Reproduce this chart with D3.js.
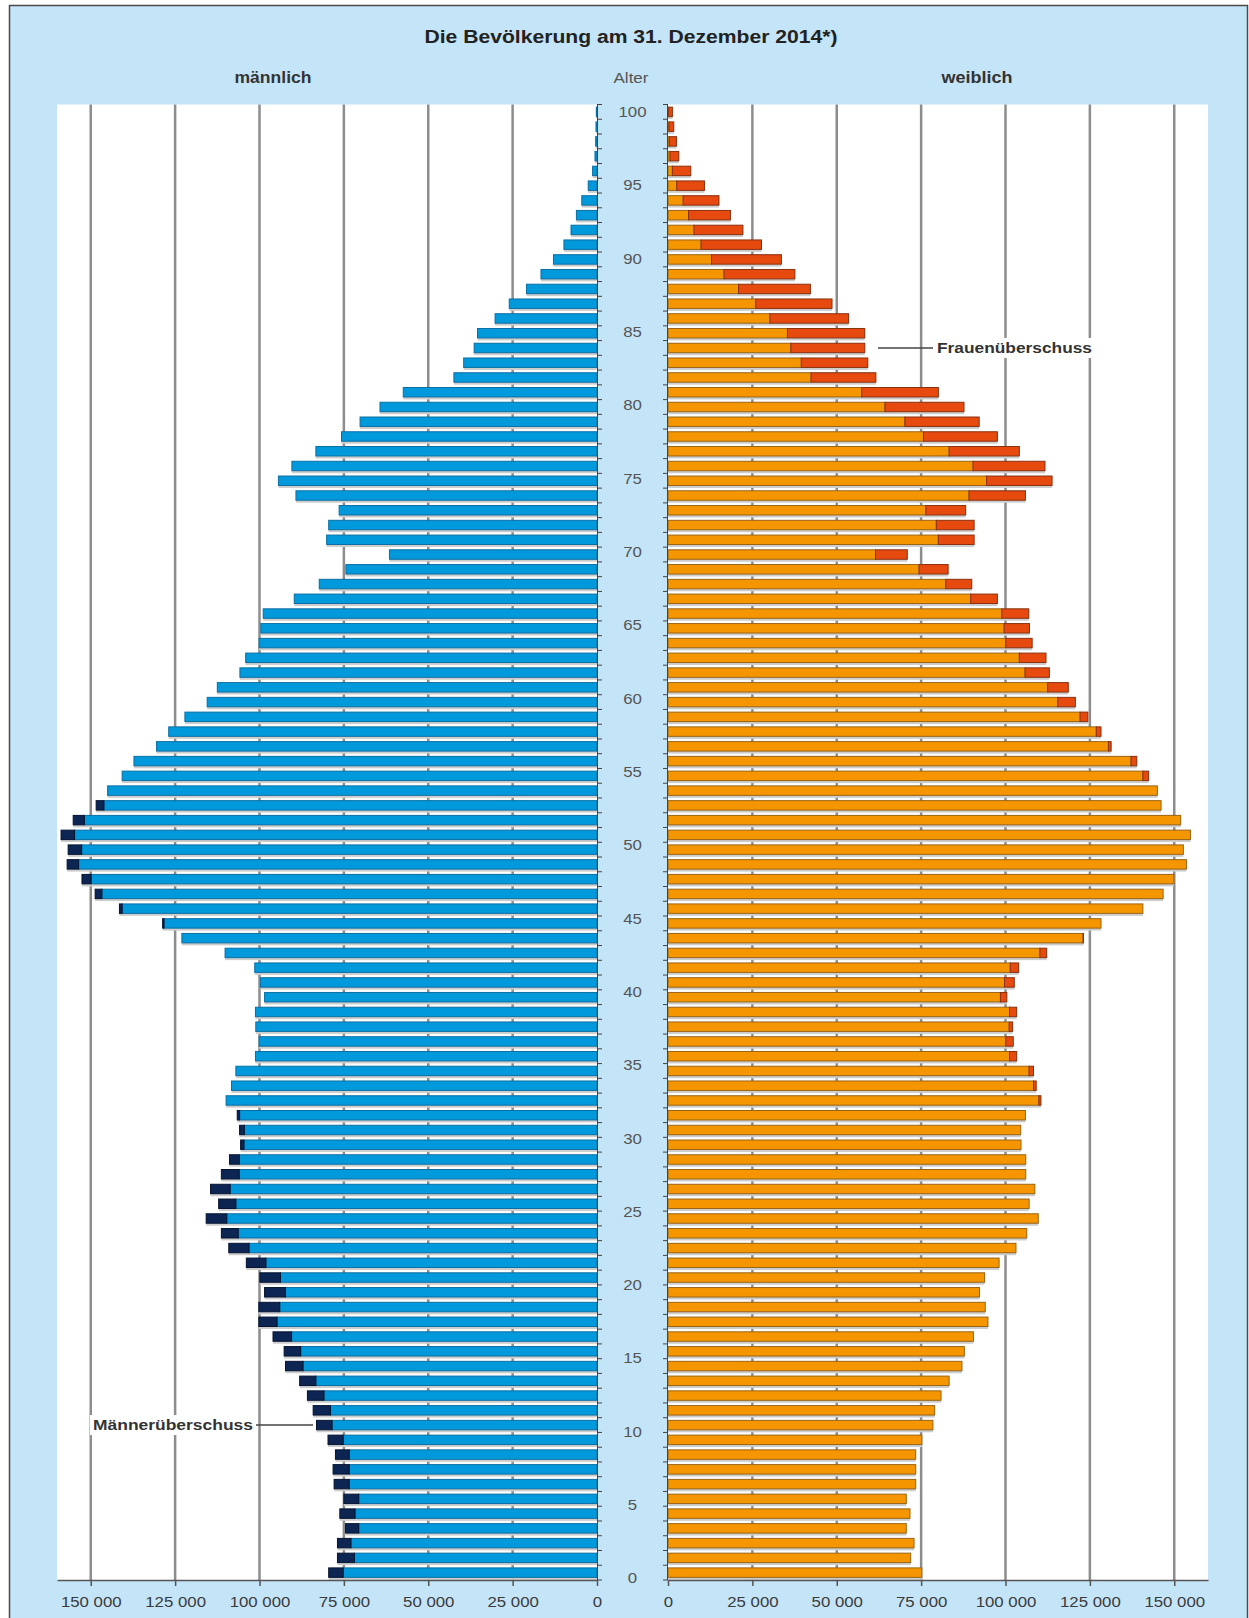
<!DOCTYPE html>
<html>
<head>
<meta charset="utf-8">
<script src="https://cdn.jsdelivr.net/npm/d3@7"></script>
<style>
  body { margin: 0; background: #fff; }
  svg { display: block; }
  text { font-family: "Liberation Sans", Arial, sans-serif; }
</style>
</head>
<body>
<svg id="chart" width="1249" height="1618"></svg>
<script>
// ages 0..99, bottom to top
var ages = d3.range(0, 100);

var maleValues = [
  79500, 76900, 76900, 74500, 76200, 75000, 77900, 78200, 77500, 79700,
  83100, 84100, 85800, 88100, 92300, 92700, 96000, 100200, 100200, 98500,
  99900, 103900, 109100, 111300, 115800, 112100, 114500, 111300, 108900, 105600,
  105900, 106600, 109900, 108300, 107000, 101200, 100100, 101100, 101200, 98500,
  99700, 101400, 110200, 123000, 128700, 141500, 148700, 152600, 157000, 156700,
  158800, 155200, 148400, 145000, 140700, 137200, 130500, 126900, 122100, 115500,
  112500, 105800, 104100, 100100, 99600, 98900, 89700, 82300, 74400, 61500,
  80100, 79500, 76400, 89200, 94400, 90400, 83300, 75700, 70200, 64300,
  57400, 42400, 39500, 36400, 35400, 30200, 26000, 20900, 16600, 12900,
  9800, 7700, 6100, 4500, 2600, 1300, 600, 400, 300, 200
];

var femaleValues = [
  75200, 71900, 72900, 70600, 71700, 70600, 73400, 73400, 73400, 75200,
  78500, 79000, 80900, 83300, 87100, 87800, 90500, 94800, 94000, 92300,
  93800, 98100, 103100, 106300, 109700, 107000, 108700, 106000, 106000, 104600,
  104500, 105900, 110500, 109100, 108300, 103300, 102300, 102100, 103300, 100400,
  102600, 103900, 112200, 123100, 128300, 140700, 146700, 149900, 153600, 152700,
  154800, 151900, 146100, 145000, 142400, 138900, 131300, 128300, 124400, 120700,
  118600, 113000, 112000, 107900, 107100, 106900, 97600, 90000, 83000, 70900,
  90700, 90700, 88200, 105900, 113800, 111700, 104100, 97600, 92200, 87700,
  80100, 61600, 59200, 58300, 58300, 53500, 48600, 42200, 37600, 33600,
  27700, 22200, 18500, 15100, 10800, 6750, 3200, 2500, 1700, 1300
];

var xTicks = [0, 25000, 50000, 75000, 100000, 125000, 150000];
var ageLabels = d3.range(0, 101, 5);

var titleText = 'Die Bevölkerung am 31. Dezember 2014*)';

var svg = d3.select('#chart');

var plotTop = 104.5, plotBottom = 1580;

var xL = d3.scaleLinear().domain([0, 160000]).range([597, 57]);
var xR = d3.scaleLinear().domain([0, 160000]).range([668, 1208]);
var y = d3.scaleBand().domain(ages).range([plotBottom, plotTop]).paddingInner(0.36).paddingOuter(0.18);
// the age labels sit on their own scale in the original
var yLab = d3.scaleLinear().domain([0, 100]).range([1578, 111.7]);

var fmt = d3.formatLocale({ decimal: ',', thousands: '\u00a0', grouping: [3], currency: ['', ''] }).format(',');

var BLUE = '#0099dc', NAVY = '#0c2552', ORANGE = '#f59600', RED = '#e64a0e';

function stretch(sel, k) {
  sel.each(function () {
    var w = this.getComputedTextLength();
    d3.select(this).attr('textLength', w * k).attr('lengthAdjust', 'spacingAndGlyphs');
  });
}

// background + frame
svg.append('rect').attr('width', 1249).attr('height', 1618).attr('fill', '#fff');
svg.append('rect')
  .attr('x', 9.5).attr('y', 5.5).attr('width', 1238).attr('height', 1640)
  .attr('fill', '#c4e4f8').attr('stroke', '#4a4a4a').attr('stroke-width', 1.5);

// plot areas
svg.append('rect').attr('x', xL.range()[1]).attr('y', plotTop)
  .attr('width', xL.range()[0] - xL.range()[1]).attr('height', plotBottom - plotTop).attr('fill', '#fff');
svg.append('rect').attr('x', xR.range()[0]).attr('y', plotTop)
  .attr('width', xR.range()[1] - xR.range()[0]).attr('height', plotBottom - plotTop).attr('fill', '#fff');

// gridlines
var grid = svg.append('g').attr('stroke', '#8d8d8d').attr('stroke-width', 2.5);
xTicks.slice(1).forEach(function (t) {
  grid.append('line').attr('x1', xL(t)).attr('x2', xL(t)).attr('y1', plotTop).attr('y2', plotBottom);
  grid.append('line').attr('x1', xR(t)).attr('x2', xR(t)).attr('y1', plotTop).attr('y2', plotBottom);
});

var rows = ages.map(function (a) {
  return { age: a, m: maleValues[a], f: femaleValues[a], c: Math.min(maleValues[a], femaleValues[a]) };
});

// shadows under the bars
var shadow = svg.append('g').attr('fill', '#cdcdcd');
shadow.selectAll('.sl').data(rows).enter().append('rect')
  .attr('x', function (d) { return xL(d.m); })
  .attr('y', function (d) { return y(d.age) + 2.5; })
  .attr('width', function (d) { return xL(0) - xL(d.m); })
  .attr('height', y.bandwidth());
shadow.selectAll('.sr').data(rows).enter().append('rect')
  .attr('x', xR(0))
  .attr('y', function (d) { return y(d.age) + 2.5; })
  .attr('width', function (d) { return xR(d.f) - xR(0); })
  .attr('height', y.bandwidth());

var bars = svg.append('g').attr('stroke-width', 1);

// männlich
bars.selectAll('.mc').data(rows).enter().append('rect')
  .attr('x', function (d) { return xL(d.c); })
  .attr('y', function (d) { return y(d.age); })
  .attr('width', function (d) { return xL(0) - xL(d.c); })
  .attr('height', y.bandwidth())
  .attr('fill', BLUE).attr('stroke', '#0b6fa3');
bars.selectAll('.mx').data(rows.filter(function (d) { return d.m > d.f; })).enter().append('rect')
  .attr('x', function (d) { return xL(d.m); })
  .attr('y', function (d) { return y(d.age); })
  .attr('width', function (d) { return xL(d.c) - xL(d.m); })
  .attr('height', y.bandwidth())
  .attr('fill', NAVY).attr('stroke', '#061430');

// weiblich
bars.selectAll('.fc').data(rows).enter().append('rect')
  .attr('x', xR(0))
  .attr('y', function (d) { return y(d.age); })
  .attr('width', function (d) { return xR(d.c) - xR(0); })
  .attr('height', y.bandwidth())
  .attr('fill', ORANGE).attr('stroke', '#9a6412');
bars.selectAll('.fx').data(rows.filter(function (d) { return d.f > d.m; })).enter().append('rect')
  .attr('x', function (d) { return xR(d.c); })
  .attr('y', function (d) { return y(d.age); })
  .attr('width', function (d) { return xR(d.f) - xR(d.c); })
  .attr('height', y.bandwidth())
  .attr('fill', RED).attr('stroke', '#8a3010');

// vertical axes at the middle strip, ticks between the age bands
var step = y.step();
var vax = svg.append('g').attr('stroke', '#444').attr('stroke-width', 1);
vax.append('line').attr('x1', xL(0) + 0.5).attr('x2', xL(0) + 0.5).attr('y1', plotTop).attr('y2', plotBottom);
vax.append('line').attr('x1', xR(0) - 0.5).attr('x2', xR(0) - 0.5).attr('y1', plotTop).attr('y2', plotBottom);
d3.range(0, ages.length + 1).forEach(function (i) {
  var yy = plotBottom - i * step;
  vax.append('line').attr('x1', xL(0)).attr('x2', xL(0) + 5).attr('y1', yy).attr('y2', yy);
  vax.append('line').attr('x1', xR(0)).attr('x2', xR(0) - 5).attr('y1', yy).attr('y2', yy);
});

// bottom axes
function styleAxis(g) {
  g.select('.domain').attr('stroke', '#555').attr('stroke-width', 1.5);
  g.selectAll('.tick line').attr('stroke', '#555').attr('stroke-width', 1.5);
  g.selectAll('.tick text').attr('font-size', 15).attr('fill', '#3a3a3a').attr('dy', 0)
    .attr('y', 27).style('font-family', '"Liberation Sans", Arial, sans-serif');
  stretch(g.selectAll('.tick text'), 1.12);
}
svg.append('g').attr('transform', 'translate(0,' + plotBottom + ')')
  .call(d3.axisBottom(xL).tickValues(xTicks).tickFormat(fmt).tickSize(6).tickSizeOuter(0))
  .call(styleAxis);
svg.append('g').attr('transform', 'translate(0,' + plotBottom + ')')
  .call(d3.axisBottom(xR).tickValues(xTicks).tickFormat(fmt).tickSize(6).tickSizeOuter(0))
  .call(styleAxis);

// age labels
var midX = (xL(0) + xR(0)) / 2;
var al = svg.append('g').selectAll('text').data(ageLabels).enter().append('text')
  .attr('x', midX)
  .attr('y', function (d) { return yLab(d); })
  .attr('dy', '0.36em')
  .attr('text-anchor', 'middle')
  .attr('font-size', 15)
  .attr('fill', '#555')
  .text(function (d) { return d; });
stretch(al, 1.12);

// headings
svg.append('text').attr('x', 631).attr('y', 43).attr('text-anchor', 'middle')
  .attr('font-size', 18).attr('font-weight', 'bold').attr('fill', '#222')
  .attr('textLength', 413).attr('lengthAdjust', 'spacingAndGlyphs')
  .text(titleText);
svg.append('text').attr('x', 273).attr('y', 83).attr('text-anchor', 'middle')
  .attr('font-size', 16).attr('font-weight', 'bold').attr('fill', '#333')
  .attr('textLength', 77).attr('lengthAdjust', 'spacingAndGlyphs')
  .text('männlich');
svg.append('text').attr('x', 631).attr('y', 83).attr('text-anchor', 'middle')
  .attr('font-size', 15).attr('fill', '#555')
  .attr('textLength', 35).attr('lengthAdjust', 'spacingAndGlyphs')
  .text('Alter');
svg.append('text').attr('x', 977).attr('y', 83).attr('text-anchor', 'middle')
  .attr('font-size', 16).attr('font-weight', 'bold').attr('fill', '#333')
  .attr('textLength', 71).attr('lengthAdjust', 'spacingAndGlyphs')
  .text('weiblich');

// annotations
var fy = y(83) + y.bandwidth() / 2;
svg.append('line').attr('x1', 878).attr('x2', 933).attr('y1', fy).attr('y2', fy)
  .attr('stroke', '#444').attr('stroke-width', 1.5);
svg.append('rect').attr('x', 935).attr('y', fy - 10).attr('width', 160).attr('height', 20).attr('fill', '#fff');
svg.append('text').attr('x', 937).attr('y', fy).attr('dy', '0.36em')
  .attr('font-size', 15).attr('font-weight', 'bold').attr('fill', '#333')
  .attr('textLength', 155).attr('lengthAdjust', 'spacingAndGlyphs')
  .text('Frauenüberschuss');

var my = y(10) + y.bandwidth() / 2;
svg.append('line').attr('x1', 256).attr('x2', 313).attr('y1', my).attr('y2', my)
  .attr('stroke', '#444').attr('stroke-width', 1.5);
svg.append('rect').attr('x', 90).attr('y', my - 10).attr('width', 166).attr('height', 20).attr('fill', '#fff');
svg.append('text').attr('x', 93).attr('y', my).attr('dy', '0.36em')
  .attr('font-size', 15).attr('font-weight', 'bold').attr('fill', '#333')
  .attr('textLength', 160).attr('lengthAdjust', 'spacingAndGlyphs')
  .text('Männerüberschuss');
</script>
</body>
</html>
